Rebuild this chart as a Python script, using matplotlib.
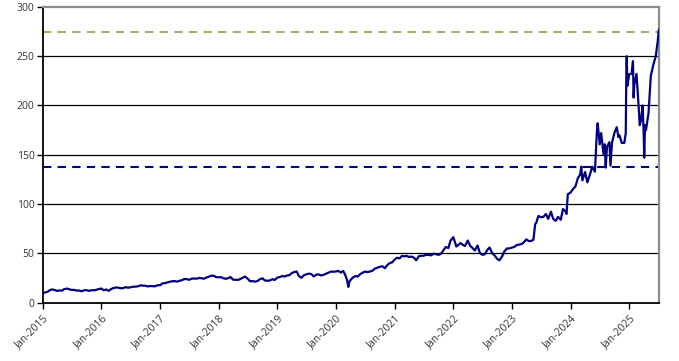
import matplotlib
matplotlib.use("Agg")
import matplotlib.pyplot as plt
import matplotlib.dates as mdates
import pandas as pd

plt.rcParams['font.family'] = ['Open Sans', 'DejaVu Sans']

dates = [
    "2015-01-02", "2015-01-15", "2015-02-01", "2015-02-15", "2015-03-01", "2015-03-15", "2015-04-01", "2015-04-15",
    "2015-05-01", "2015-05-15", "2015-06-01", "2015-06-15", "2015-07-01", "2015-07-15", "2015-08-01", "2015-08-15",
    "2015-09-01", "2015-09-15", "2015-10-01", "2015-10-15", "2015-11-01", "2015-11-15", "2015-12-01", "2015-12-15",
    "2016-01-01", "2016-01-15", "2016-02-01", "2016-02-15", "2016-03-01", "2016-03-15", "2016-04-01", "2016-04-15",
    "2016-05-01", "2016-05-15", "2016-06-01", "2016-06-15", "2016-07-01", "2016-07-15", "2016-08-01", "2016-08-15",
    "2016-09-01", "2016-09-15", "2016-10-01", "2016-10-15", "2016-11-01", "2016-11-15", "2016-12-01", "2016-12-15",
    "2017-01-01", "2017-01-15", "2017-02-01", "2017-02-15", "2017-03-01", "2017-03-15", "2017-04-01", "2017-04-15",
    "2017-05-01", "2017-05-15", "2017-06-01", "2017-06-15", "2017-07-01", "2017-07-15", "2017-08-01", "2017-08-15",
    "2017-09-01", "2017-09-15", "2017-10-01", "2017-10-15", "2017-11-01", "2017-11-15", "2017-12-01", "2017-12-15",
    "2018-01-01", "2018-01-15", "2018-02-01", "2018-02-15", "2018-03-01", "2018-03-15", "2018-04-01", "2018-04-15",
    "2018-05-01", "2018-05-15", "2018-06-01", "2018-06-15", "2018-07-01", "2018-07-15", "2018-08-01", "2018-08-15",
    "2018-09-01", "2018-09-15", "2018-10-01", "2018-10-15", "2018-11-01", "2018-11-15", "2018-12-01", "2018-12-15",
    "2019-01-01", "2019-01-15", "2019-02-01", "2019-02-15", "2019-03-01", "2019-03-15", "2019-04-01", "2019-04-15",
    "2019-05-01", "2019-05-15", "2019-06-01", "2019-06-15", "2019-07-01", "2019-07-15", "2019-08-01", "2019-08-15",
    "2019-09-01", "2019-09-15", "2019-10-01", "2019-10-15", "2019-11-01", "2019-11-15", "2019-12-01", "2019-12-15",
    "2020-01-01", "2020-01-15", "2020-02-01", "2020-02-15", "2020-03-01", "2020-03-10", "2020-03-18", "2020-03-25",
    "2020-04-01", "2020-04-15", "2020-05-01", "2020-05-15", "2020-06-01", "2020-06-15", "2020-07-01", "2020-07-15",
    "2020-08-01", "2020-08-15", "2020-09-01", "2020-09-15", "2020-10-01", "2020-10-15", "2020-11-01", "2020-11-15",
    "2020-12-01", "2020-12-15",
    "2021-01-01", "2021-01-15", "2021-02-01", "2021-02-15", "2021-03-01", "2021-03-15", "2021-04-01", "2021-04-15",
    "2021-05-01", "2021-05-15", "2021-06-01", "2021-06-15", "2021-07-01", "2021-07-15", "2021-08-01", "2021-08-15",
    "2021-09-01", "2021-09-15", "2021-10-01", "2021-10-15", "2021-11-01", "2021-11-15", "2021-12-01", "2021-12-15",
    "2022-01-01", "2022-01-10", "2022-01-20", "2022-02-01", "2022-02-15", "2022-03-01", "2022-03-15", "2022-04-01",
    "2022-04-15", "2022-05-01", "2022-05-15", "2022-06-01", "2022-06-15", "2022-07-01", "2022-07-15", "2022-08-01",
    "2022-08-15", "2022-09-01", "2022-09-15", "2022-10-01", "2022-10-15", "2022-11-01", "2022-11-15", "2022-12-01",
    "2022-12-15",
    "2023-01-01", "2023-01-15", "2023-02-01", "2023-02-15", "2023-03-01", "2023-03-15", "2023-04-01", "2023-04-15",
    "2023-05-01", "2023-05-15", "2023-05-26", "2023-06-01", "2023-06-15", "2023-07-01", "2023-07-15", "2023-08-01",
    "2023-08-15", "2023-09-01", "2023-09-15", "2023-10-01", "2023-10-15", "2023-11-01", "2023-11-15", "2023-12-01",
    "2023-12-07", "2023-12-15",
    "2024-01-01", "2024-01-15", "2024-02-01", "2024-02-15", "2024-03-01", "2024-03-08", "2024-03-15", "2024-04-01",
    "2024-04-15", "2024-05-01", "2024-05-15", "2024-06-01", "2024-06-13", "2024-06-18", "2024-07-01", "2024-07-10",
    "2024-07-25", "2024-08-01", "2024-08-07", "2024-08-15", "2024-08-30", "2024-09-06", "2024-09-15", "2024-10-01",
    "2024-10-15", "2024-10-25", "2024-11-01", "2024-11-15", "2024-12-01", "2024-12-10", "2024-12-13", "2024-12-16",
    "2024-12-20",
    "2025-01-01", "2025-01-15", "2025-01-24", "2025-01-28", "2025-02-01", "2025-02-15", "2025-02-28", "2025-03-07",
    "2025-03-15", "2025-03-25", "2025-04-01", "2025-04-04", "2025-04-09", "2025-04-15", "2025-05-01", "2025-05-15",
    "2025-06-01", "2025-06-15", "2025-06-27", "2025-07-03", "2025-07-07",
]

prices = [
    10.0, 10.3, 11.2, 12.8, 13.5, 12.9, 11.9, 12.5, 12.2, 13.8, 14.3, 13.6, 12.9, 13.0, 12.2, 12.4,
    11.6, 12.6, 12.7, 12.0, 12.7, 12.5, 13.1, 13.8,
    14.4, 12.6, 13.4, 12.0, 13.8, 14.8, 15.4, 15.3, 14.6, 14.8, 15.8, 15.2, 15.6, 16.2, 16.3, 16.6,
    17.6, 17.3, 17.2, 16.5, 16.9, 16.8, 16.6, 17.8,
    17.7, 19.6, 19.9, 20.6, 21.2, 21.7, 21.9, 21.3, 22.2, 22.7, 24.0, 23.9, 23.2, 24.3, 24.6, 24.3,
    25.1, 24.8, 24.3, 25.4, 26.4, 27.4, 27.3, 26.0,
    25.7, 25.9, 24.6, 24.3, 24.9, 26.0, 23.3, 23.3, 23.1, 24.0, 25.5, 26.5, 24.2, 21.7, 21.9, 21.3,
    22.1, 23.9, 24.7, 22.5, 22.3, 22.5, 23.9, 23.0,
    25.4, 26.0, 27.0, 26.6, 27.5, 27.8, 30.0, 31.0, 31.7, 27.0, 25.3, 27.9, 28.8, 29.5, 29.0, 26.6,
    28.4, 28.7, 27.6, 28.2, 29.4, 30.5, 31.6, 31.4,
    31.6, 32.3, 30.5, 32.3, 27.3, 23.0, 16.0, 21.5, 23.0, 25.5, 27.0, 26.5, 29.1, 30.4, 31.6, 31.0,
    31.7, 32.4, 34.7, 35.5, 36.4, 37.0, 35.0, 38.0, 40.2, 40.8,
    43.8, 45.5, 45.0, 47.5, 47.0, 47.5, 46.4, 46.8, 45.6, 43.0, 47.2, 47.5, 47.7, 48.5, 48.5, 48.0,
    49.7, 49.2, 48.5, 49.5, 53.2, 56.5, 55.4, 63.0,
    66.5, 62.0, 57.0, 58.6, 60.5, 58.7, 57.5, 63.0, 58.0, 55.4, 53.0, 58.0, 50.5, 48.6, 49.0, 53.5,
    56.0, 49.9, 48.0, 44.4, 43.0, 47.0, 52.0, 55.0, 55.0,
    55.9, 56.5, 58.5, 59.0, 59.4, 61.0, 64.2, 62.5, 62.6, 64.0, 80.0, 80.8, 88.0, 86.7, 87.0, 89.9,
    85.0, 92.3, 85.0, 83.0, 87.0, 84.1, 95.0, 92.6, 90.0, 110.0,
    111.6, 115.0, 118.0, 126.0, 130.0, 138.0, 124.0, 132.5, 122.0, 130.0, 138.0, 132.9, 173.0, 182.0, 160.6, 172.0,
    150.0, 160.7, 137.0, 158.0, 162.8, 139.0, 162.0, 172.5, 178.0, 168.0, 169.8, 162.0, 162.0, 172.0, 224.0, 250.0,
    220.0,
    231.8, 232.0, 245.0, 208.0, 221.0, 232.0, 199.5, 180.0, 185.0, 200.0, 170.0, 147.0, 180.0, 175.0, 192.5, 230.0,
    242.0, 250.0, 265.0, 275.6, 277.0,
]

upper_level = 275.0
lower_level = 137.5

yticks = [0, 50, 100, 150, 200, 250, 300]

x = pd.to_datetime(dates)

fig = plt.figure(figsize=(6.79, 3.61), dpi=100)
ax = fig.add_axes([0.063, 0.1615, 0.908, 0.8195])

for y in yticks[1:-1]:
    ax.axhline(y, color='black', lw=0.9, zorder=1)

ax.axhline(upper_level, color='#A8AE68', lw=1.5, ls=(0, (4, 3)), zorder=2)
ax.axhline(lower_level, color='#000080', lw=1.5, ls=(0, (4, 3)), zorder=2)

ax.plot(x, prices, color='#000080', lw=1.6, zorder=3)

ax.set_ylim(0, 300)
ax.set_yticks(yticks)
ax.set_xlim(pd.Timestamp("2015-01-01"), pd.Timestamp("2025-07-07"))
ax.xaxis.set_major_locator(mdates.YearLocator(month=1, day=1))
ax.xaxis.set_major_formatter(mdates.DateFormatter("%b-%Y"))

for s in ['left', 'bottom']:
    ax.spines[s].set_color('black')
    ax.spines[s].set_linewidth(1.3)
for s in ['top', 'right']:
    ax.spines[s].set_color('#8C8C8C')
    ax.spines[s].set_linewidth(1.6)

ax.tick_params(axis='both', direction='out', length=4, width=1.0, color='black',
               labelsize=7.5, labelcolor='#333333')
ax.tick_params(axis='y', pad=2)
for lab in ax.get_xticklabels():
    lab.set_rotation(45)
    lab.set_ha('right')
    lab.set_rotation_mode('anchor')

fig.savefig("out.png", dpi=100)
